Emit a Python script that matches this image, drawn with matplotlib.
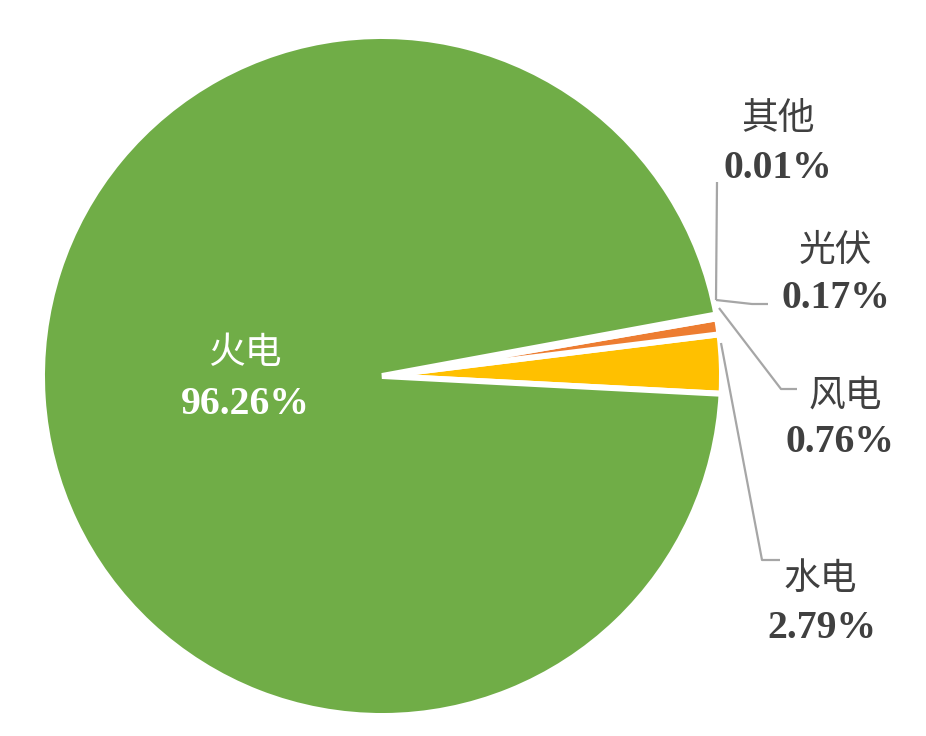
import matplotlib
matplotlib.use('Agg')
from matplotlib import pyplot as plt

# share of generation by source
names = ['水电', '风电', '光伏', '其他', '火电']
shares = [2.79, 0.76, 0.17, 0.01, 96.26]
pct_labels = ['2.79%', '0.76%', '0.17%', '0.01%', '96.26%']
colors = ['#FFC000', '#ED7D31', '#A5A5A5', '#4472C4', '#70AD47']

W, H = 926, 736

fig = plt.figure(figsize=(W / 100, H / 100), dpi=100)
ax = fig.add_axes([0, 0, 1, 1])

# pie drawn in pixel units (y up)
cx, cy, r = 382, H - 376, 340
ax.pie(shares, colors=colors, startangle=-3, counterclock=True,
       center=(cx, cy), radius=r,
       wedgeprops=dict(edgecolor='white', linewidth=4.3))

ax.set_xlim(0, W)
ax.set_ylim(0, H)
ax.set_aspect('equal')
ax.axis('off')

# label positions (image px): name center, pct center
name_pos = [(820, 578), (845, 395), (836, 250), (778, 118), (245, 352)]
pct_pos = [(822, 628), (840, 442), (836, 298), (778, 168), (245, 405)]
text_colors = ['#404040'] * 4 + ['white']

for n, p, (nx, ny), (px, py), c in zip(names, pct_labels, name_pos, pct_pos, text_colors):
    ax.text(nx, H - ny, n, ha='center', va='center', fontsize=26.5,
            family=['Noto Sans CJK SC', 'DejaVu Sans'], color=c)
    ax.text(px, H - py, p, ha='center', va='center', fontsize=28.5,
            family='Liberation Serif', fontweight='bold', color=c)

# leader lines (image px)
leaders = [
    [(721, 343), (762, 560), (780, 560)],
    [(719, 308), (781, 389), (797, 389)],
    [(716, 300), (752, 304), (768, 304)],
    [(716, 300), (717, 182)],
]
for pts in leaders:
    xs = [p[0] for p in pts]
    ys = [H - p[1] for p in pts]
    ax.plot(xs, ys, color='#A6A6A6', linewidth=1.6, solid_capstyle='butt')

fig.savefig('out.png', dpi=100, facecolor='white')
